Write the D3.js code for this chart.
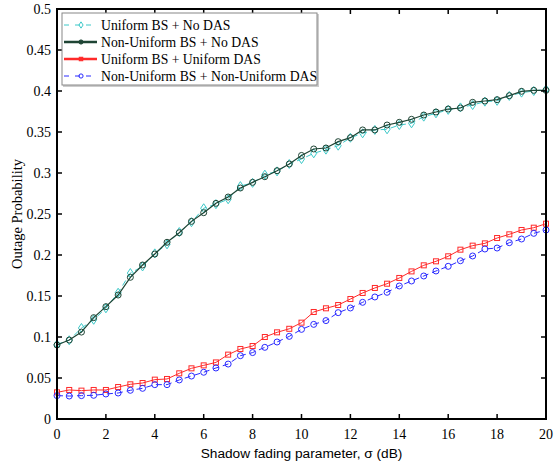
<!DOCTYPE html>
<html><head><meta charset="utf-8">
<script src="https://cdn.jsdelivr.net/npm/d3@7"></script>
<style>
body{margin:0;background:#fff}svg{display:block}
.serif{font-family:"Liberation Serif","Times New Roman","DejaVu Serif",serif}
.sans{font-family:"Liberation Sans",Arial,sans-serif}
</style>
</head><body><svg id="c" width="557" height="464"></svg>
<script>
const sigma = d3.range(0, 20.01, 0.5);
const uniformNoDAS = [0.091,0.096,0.111,0.121,0.135,0.154,0.178,0.186,0.202,0.213,0.228,0.240,0.257,0.262,0.268,0.284,0.288,0.298,0.302,0.311,0.317,0.324,0.3285,0.3333,0.343,0.3484,0.3525,0.3533,0.3585,0.3606,0.3687,0.3728,0.377,0.380,0.3829,0.387,0.388,0.394,0.398,0.400,0.402];
const nonUniformNoDAS = [0.0902,0.0963,0.106,0.1236,0.137,0.1512,0.1728,0.1878,0.2012,0.2155,0.2272,0.241,0.2516,0.263,0.2707,0.2817,0.2886,0.2955,0.3028,0.311,0.3214,0.3293,0.3305,0.3382,0.3431,0.3525,0.3525,0.3585,0.3618,0.3655,0.3707,0.3744,0.378,0.3793,0.3862,0.3878,0.3894,0.3943,0.3996,0.4008,0.4008];
const uniformUniformDAS = [0.0325,0.0354,0.0346,0.0354,0.0354,0.039,0.0423,0.0439,0.048,0.0488,0.0557,0.0618,0.0654,0.069,0.0785,0.0854,0.089,0.100,0.1057,0.110,0.1175,0.1305,0.135,0.139,0.1463,0.1537,0.1598,0.165,0.172,0.180,0.1874,0.1923,0.1984,0.2065,0.2114,0.2142,0.2207,0.2252,0.2305,0.2333,0.2382];
const nonUniformNonUniformDAS = [0.0285,0.028,0.0285,0.0289,0.0305,0.0317,0.035,0.0374,0.0419,0.0419,0.0476,0.0524,0.057,0.0622,0.067,0.0772,0.081,0.0874,0.0939,0.1008,0.1093,0.1154,0.120,0.1297,0.1354,0.1423,0.1488,0.1545,0.1622,0.1683,0.1744,0.1805,0.1862,0.193,0.1988,0.2073,0.2085,0.215,0.2195,0.2264,0.2305];
const seriesNames = ["Uniform BS + No DAS","Non-Uniform BS + No DAS","Uniform BS + Uniform DAS","Non-Uniform BS + Non-Uniform DAS"];
const xTicks = [0,2,4,6,8,10,12,14,16,18,20];
const yTicks = [0,0.05,0.1,0.15,0.2,0.25,0.3,0.35,0.4,0.45,0.5];

const series = [
  {name:seriesNames[0], values:uniformNoDAS, color:"#3cc8c8", dash:"6,4", marker:"diamond", width:1},
  {name:seriesNames[1], values:nonUniformNoDAS, color:"#1e4434", dash:null, marker:"circle", width:1.2},
  {name:seriesNames[2], values:uniformUniformDAS, color:"#ff2a2a", dash:null, marker:"square", width:1},
  {name:seriesNames[3], values:nonUniformNonUniformDAS, color:"#2a2aff", dash:"6,4", marker:"circle", width:1}
];

const svg = d3.select("#c");
const m = {l:57, r:11, t:9, b:45};
const W = 557, H = 464;
const x = d3.scaleLinear().domain([0,20]).range([m.l, W - m.r]);
const y = d3.scaleLinear().domain([0,0.5]).range([H - m.b, m.t]);

const line = d3.line().x((d,i)=>x(sigma[i])).y(d=>y(d));
function drawMarker(g, type, cx, cy, color, fill, s){
  s = s || 1;
  if(type==="circle"){
    g.append("circle").attr("cx",cx).attr("cy",cy).attr("r",3*s).attr("fill",fill||"none").attr("stroke",color).attr("stroke-width",1);
  } else if(type==="square"){
    g.append("rect").attr("x",cx-2.5*s).attr("y",cy-2.5*s).attr("width",5*s).attr("height",5*s).attr("fill",fill||"none").attr("stroke",color).attr("stroke-width",1);
  } else {
    g.append("path").attr("d",`M${cx},${cy-4.5*s}L${cx+3*s},${cy}L${cx},${cy+4.5*s}L${cx-3*s},${cy}Z`).attr("fill",fill||"none").attr("stroke",color).attr("stroke-width",1);
  }
}
series.forEach(s=>{
  const g = svg.append("g");
  g.append("path").datum(s.values).attr("d",line).attr("fill","none")
    .attr("stroke",s.color).attr("stroke-width",s.width).attr("stroke-dasharray",s.dash);
  s.values.forEach((v,i)=>drawMarker(g, s.marker, x(sigma[i]), y(v), s.color));
});

const axG = svg.append("g").attr("class","serif").attr("font-size",14).attr("fill","#000");
const tl = 5;
xTicks.forEach(t=>{
  axG.append("line").attr("x1",x(t)).attr("x2",x(t)).attr("y1",y(0)).attr("y2",y(0)-tl).attr("stroke","#000").attr("stroke-width",1.5);
  axG.append("line").attr("x1",x(t)).attr("x2",x(t)).attr("y1",y(0.5)).attr("y2",y(0.5)+tl).attr("stroke","#000").attr("stroke-width",1.5);
  axG.append("text").attr("x",x(t)).attr("y",y(0)+20).attr("text-anchor","middle").text(t);
});
yTicks.forEach(t=>{
  axG.append("line").attr("x1",x(0)).attr("x2",x(0)+tl).attr("y1",y(t)).attr("y2",y(t)).attr("stroke","#000").attr("stroke-width",1.5);
  axG.append("line").attr("x1",x(20)).attr("x2",x(20)-tl).attr("y1",y(t)).attr("y2",y(t)).attr("stroke","#000").attr("stroke-width",1.5);
  axG.append("text").attr("x",x(0)-6).attr("y",y(t)+5).attr("text-anchor","end").text(t);
});
svg.append("rect").attr("x",x(0)).attr("y",y(0.5)).attr("width",x(20)-x(0)).attr("height",y(0)-y(0.5))
  .attr("fill","none").attr("stroke","#000").attr("stroke-width",2);

svg.append("text").attr("class","sans").attr("x",(x(0)+x(20))/2).attr("y",H-6).attr("text-anchor","middle")
  .attr("font-size",13.7).text("Shadow fading parameter, σ (dB)");
svg.append("text").attr("class","serif").attr("transform",`translate(22,${(y(0)+y(0.5))/2}) rotate(-90)`).attr("text-anchor","middle")
  .attr("font-size",14.5).text("Outage Probability");

const lg = svg.append("g");
lg.append("rect").attr("x",63).attr("y",14).attr("width",256).attr("height",73).attr("fill","#ccc");
lg.append("rect").attr("x",62).attr("y",13).attr("width",255).attr("height",72).attr("fill","#fff").attr("stroke","#888").attr("stroke-width",1);
series.forEach((s,i)=>{
  const yy = 25 + i*17;
  lg.append("line").attr("x1",64).attr("x2",97).attr("y1",yy).attr("y2",yy).attr("stroke",s.color)
    .attr("stroke-width", s.dash ? 1 : 2.5).attr("stroke-dasharray", s.dash ? "5,6" : null);
  drawMarker(lg, s.marker, 81, yy, s.color, s.dash?null:s.color, 0.7);
  lg.append("text").attr("class","serif").attr("x",101).attr("y",yy+5).attr("font-size",13.7).text(s.name);
});
</script></body></html>
